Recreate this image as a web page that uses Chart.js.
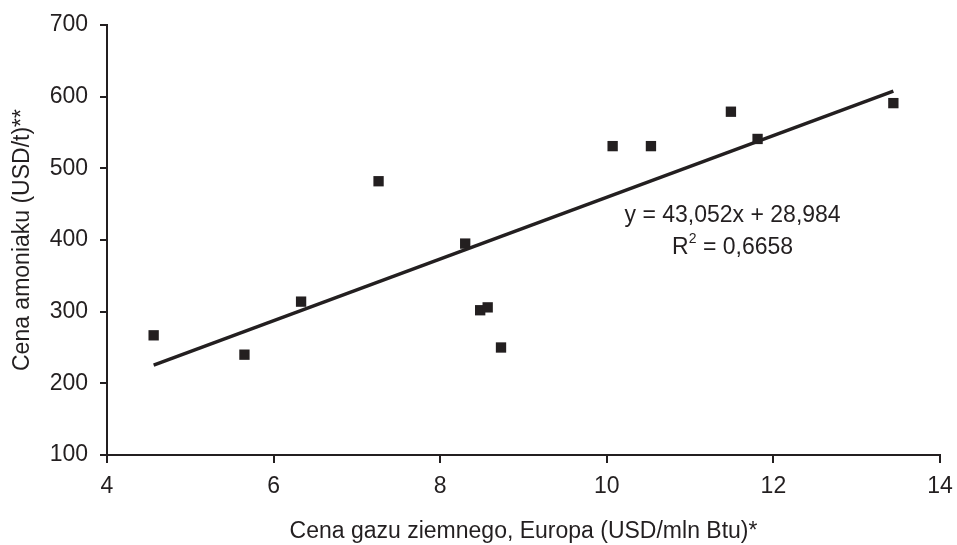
<!DOCTYPE html>
<html>
<head>
<meta charset="utf-8">
<script src="https://cdn.jsdelivr.net/npm/chart.js@4/dist/chart.umd.min.js"></script>
<style>
  html, body { margin: 0; padding: 0; background: #ffffff; }
  #wrap { width: 957px; height: 545px; }
</style>
</head>
<body>
<div id="wrap"><canvas id="c" width="957" height="545"></canvas></div>
<script>
// Natural gas price in Europe (USD/mln Btu) vs ammonia price (USD/t)
const gasPrice = [4.56, 5.65, 6.33, 7.26, 8.30, 8.48, 8.57, 8.73, 10.07, 10.53, 11.49, 11.81, 13.44];
const ammoniaPrice = [267, 240, 314, 482, 395, 302, 306, 250, 531, 531, 579, 541, 591];

// Linear trend (slope, intercept) and coefficient of determination
const trendSlope = 43.052;
const trendIntercept = 28.984;
const rSquared = 0.6658;

const xTicks = [4, 6, 8, 10, 12, 14];
const yTicks = [100, 200, 300, 400, 500, 600, 700];

const xTitle = 'Cena gazu ziemnego, Europa (USD/mln Btu)*';
const yTitle = 'Cena amoniaku (USD/t)**';

const ink = '#231f20';
const fontFamily = '"Liberation Sans", Arial, Helvetica, sans-serif';

const fmt = (v, d) => v.toFixed(d).replace('.', ',');

const xMin = Math.min(...gasPrice);
const xMax = Math.max(...gasPrice);
const trendPoints = [xMin, xMax].map(x => ({ x, y: trendSlope * x + trendIntercept }));

const scatterPoints = gasPrice.map((x, i) => ({ x, y: ammoniaPrice[i] }));

// Regression equation label
const equationLabel = {
  id: 'equationLabel',
  afterDatasetsDraw(chart) {
    const { ctx, scales } = chart;
    const cx = scales.x.getPixelForValue(11.51);
    const y1 = scales.y.getPixelForValue(434);
    const y2 = scales.y.getPixelForValue(389);
    ctx.save();
    ctx.fillStyle = ink;
    ctx.textBaseline = 'middle';
    ctx.textAlign = 'center';
    ctx.font = '23px ' + fontFamily;
    const line1 = 'y = ' + fmt(trendSlope, 3) + 'x + ' + fmt(trendIntercept, 3);
    ctx.fillText(line1, cx, y1);

    const pre = 'R';
    const sup = '2';
    const post = ' = ' + fmt(rSquared, 4);
    ctx.font = '23px ' + fontFamily;
    const wPre = ctx.measureText(pre).width;
    const wPost = ctx.measureText(post).width;
    ctx.font = '14px ' + fontFamily;
    const wSup = ctx.measureText(sup).width;
    const total = wPre + wSup + wPost;
    let x = cx - total / 2;
    ctx.textAlign = 'left';
    ctx.font = '23px ' + fontFamily;
    ctx.fillText(pre, x, y2);
    x += wPre;
    ctx.font = '14px ' + fontFamily;
    ctx.fillText(sup, x, y2 - 9);
    x += wSup;
    ctx.font = '23px ' + fontFamily;
    ctx.fillText(post, x, y2);
    ctx.restore();
  }
};

new Chart(document.getElementById('c'), {
  type: 'scatter',
  data: {
    datasets: [
      {
        type: 'line',
        data: trendPoints,
        borderColor: ink,
        borderWidth: 3.5,
        pointRadius: 0,
        fill: false,
        tension: 0,
        order: 2
      },
      {
        data: scatterPoints,
        pointStyle: 'rect',
        pointRadius: 7.3,
        pointBorderWidth: 0,
        backgroundColor: ink,
        borderColor: ink,
        order: 1
      }
    ]
  },
  options: {
    responsive: false,
    animation: false,
    events: [],
    layout: { padding: { top: 25, right: 17, left: 0, bottom: 0 } },
    plugins: {
      legend: { display: false },
      tooltip: { enabled: false }
    },
    scales: {
      x: {
        type: 'linear',
        min: 4,
        max: 14,
        afterBuildTicks: s => { s.ticks = xTicks.map(v => ({ value: v })); },
        afterFit: s => { s.height = 90; s.paddingLeft = 0; s.paddingRight = 0; },
        ticks: {
          color: ink,
          padding: 10,
          font: { family: fontFamily, size: 23 },
          callback: v => String(v)
        },
        grid: {
          display: true,
          drawOnChartArea: false,
          drawTicks: true,
          tickLength: 8,
          color: ink,
          lineWidth: 2
        },
        border: { display: true, color: ink, width: 2 },
        title: {
          display: true,
          text: xTitle,
          color: ink,
          font: { family: fontFamily, size: 23 },
          padding: { top: 0, bottom: 0 }
        }
      },
      y: {
        type: 'linear',
        min: 100,
        max: 700,
        afterBuildTicks: s => { s.ticks = yTicks.map(v => ({ value: v })); },
        afterFit: s => { s.width = 107; s.paddingTop = 0; s.paddingBottom = 0; },
        ticks: {
          color: ink,
          padding: 12,
          font: { family: fontFamily, size: 23 },
          callback: v => String(v)
        },
        grid: {
          display: true,
          drawOnChartArea: false,
          drawTicks: true,
          tickLength: 7,
          color: ink,
          lineWidth: 2
        },
        border: { display: true, color: ink, width: 2 },
        title: {
          display: true,
          text: yTitle,
          color: ink,
          font: { family: fontFamily, size: 23 },
          padding: { top: 9, bottom: 0 }
        }
      }
    }
  },
  plugins: [equationLabel]
});
</script>
</body>
</html>
